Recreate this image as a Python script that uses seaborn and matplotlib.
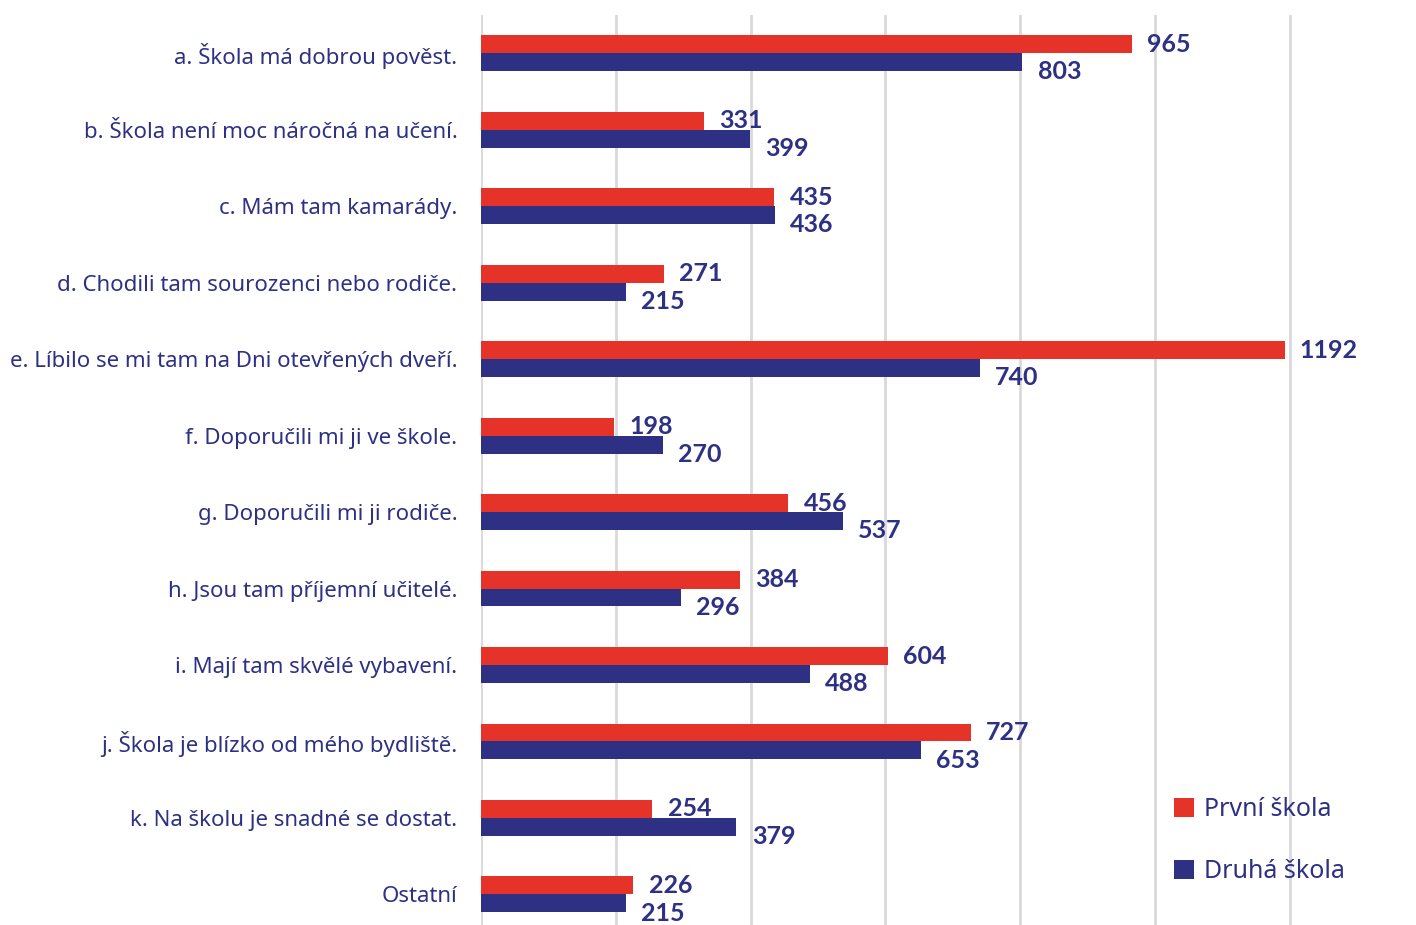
import pandas as pd
import seaborn as sns
import matplotlib.pyplot as plt

# Categories (reasons for choosing a school) and counts for each choice
categories = [
    'a. Škola má dobrou pověst.',
    'b. Škola není moc náročná na učení.',
    'c. Mám tam kamarády.',
    'd. Chodili tam sourozenci nebo rodiče.',
    'e. Líbilo se mi tam na Dni otevřených dveří.',
    'f. Doporučili mi ji ve škole.',
    'g. Doporučili mi ji rodiče.',
    'h. Jsou tam příjemní učitelé.',
    'i. Mají tam skvělé vybavení.',
    'j. Škola je blízko od mého bydliště.',
    'k. Na školu je snadné se dostat.',
    'Ostatní',
]
prvni = [965, 331, 435, 271, 1192, 198, 456, 384, 604, 727, 254, 226]
druha = [803, 399, 436, 215, 740, 270, 537, 296, 488, 653, 379, 215]
series_names = ['První škola', 'Druhá škola']

RED = '#E6332A'
NAVY = '#2E3083'

# Long form table for seaborn
df = pd.DataFrame({
    'kategorie': categories * 2,
    'pocet': prvni + druha,
    'skola': [series_names[0]] * len(categories) + [series_names[1]] * len(categories),
})

sns.set_style('white')
plt.rcParams['font.family'] = ['Noto Sans', 'DejaVu Sans']

fig = plt.figure(figsize=(14.16, 9.25), dpi=100)
ax = fig.add_axes([481 / 1416, 0.0, 1 - 481 / 1416, 1 - 15 / 925])

sns.barplot(data=df, y='kategorie', x='pocet', hue='skola', orient='h',
            palette=[RED, NAVY], width=0.47, saturation=1, linewidth=0,
            ax=ax, zorder=3)

# Value labels after each bar; second series nudged down so they don't collide
for cont, dy in zip(ax.containers, [0, -7]):
    anns = ax.bar_label(cont, padding=11, fontsize=18, fontweight='bold',
                        color=NAVY, family=['Lato', 'DejaVu Sans'])
    for a in anns:
        a.xyann = (11, dy)

ax.set_xlim(0, 1387)
ax.set_ylim(11.4, -0.5)
ax.set_xticks(range(0, 1400, 200))
ax.set_xticklabels([])
ax.xaxis.grid(True, color='#D9D9D9', linewidth=2, zorder=0)
ax.set_axisbelow(True)
ax.set_xlabel('')
ax.set_ylabel('')
for s in ax.spines.values():
    s.set_visible(False)
ax.tick_params(axis='y', length=0, pad=17, labelsize=16, labelcolor=NAVY)
ax.tick_params(axis='x', length=0)

leg = ax.legend(loc='lower right', bbox_to_anchor=(0.948, 0.02), frameon=False,
                fontsize=18, labelcolor=NAVY, handlelength=0.8, handleheight=0.8,
                handletextpad=0.4, labelspacing=1.5)

fig.savefig('out.png', dpi=100)
